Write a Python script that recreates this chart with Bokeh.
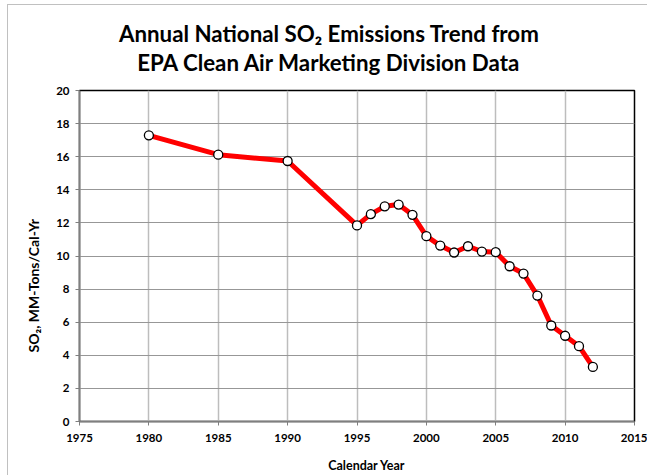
from bokeh.plotting import figure
from bokeh.layouts import column
from bokeh.models import Range1d, FixedTicker, Label, Title
from bokeh.embed import file_html
from bokeh.resources import INLINE

# Data
years = [1980, 1985, 1990, 1995, 1996, 1997, 1998, 1999, 2000, 2001, 2002,
         2003, 2004, 2005, 2006, 2007, 2008, 2009, 2010, 2011, 2012]
so2 = [17.29, 16.12, 15.74, 11.85, 12.53, 13.00, 13.11, 12.49, 11.20, 10.63, 10.21,
       10.59, 10.27, 10.23, 9.38, 8.94, 7.61, 5.80, 5.18, 4.55, 3.30]
x_ticks = [1975, 1980, 1985, 1990, 1995, 2000, 2005, 2010, 2015]
y_ticks = [0, 2, 4, 6, 8, 10, 12, 14, 16, 18, 20]
title_lines = ["Annual National SO\u2082 Emissions Trend from",
               "EPA Clean Air Marketing Division Data"]
x_label = "Calendar Year"
y_label = "SO\u2082, MM-Tons/Cal-Yr"

FONT = "Lato"
W = 639
X0, X1 = 1975, 2015


def strip(height):
    """A blank figure whose frame the column aligns with the chart frame."""
    f = figure(width=W, height=height, output_backend="svg", toolbar_location=None,
               x_range=Range1d(X0, X1), y_range=Range1d(0, height),
               min_border_left=71, min_border_right=13, min_border_top=0, min_border_bottom=0)
    f.axis.visible = False
    f.grid.visible = False
    f.outline_line_color = None
    f.background_fill_color = "white"
    f.border_fill_color = "white"
    return f


# ---- title strip ----
tf = strip(80)
for line, yy in zip(title_lines, [52, 23]):
    tf.add_layout(Label(x=1993.0, y=yy, text=line, text_align="center",
                        text_baseline="middle", text_font=FONT, text_font_size="22.3px",
                        text_font_style="bold", text_color="#000000"))

# ---- main chart ----
p = figure(width=W, height=368, output_backend="svg", toolbar_location=None,
           x_range=Range1d(X0, X1), y_range=Range1d(0, 20),
           min_border_left=71, min_border_right=13, min_border_top=5, min_border_bottom=32)

p.outline_line_color = "#000000"
p.outline_line_width = 1.5
p.background_fill_color = "white"
p.border_fill_color = "white"

for ax in (p.xaxis[0], p.yaxis[0]):
    ax.axis_line_color = "#7f7f7f"
    ax.axis_line_width = 1.5
    ax.major_tick_line_color = "#7f7f7f"
    ax.major_tick_out = 4
    ax.major_tick_in = 0
    ax.minor_tick_line_color = None
    ax.major_label_text_font = FONT
    ax.major_label_text_font_style = "bold"
    ax.major_label_text_font_size = "11.5px"
    ax.major_label_text_color = "#000000"

p.xaxis.ticker = FixedTicker(ticks=x_ticks)
p.yaxis.ticker = FixedTicker(ticks=y_ticks)
p.xaxis.major_label_standoff = 8
p.yaxis.major_label_standoff = 6

p.xgrid.grid_line_color = "#bdbdbd"
p.xgrid.grid_line_width = 1.5
p.ygrid.grid_line_color = "#979797"
p.ygrid.grid_line_width = 1.2

p.add_layout(Title(text=y_label, align="left", offset=69, standoff=24,
                   text_font=FONT, text_font_size="14px", text_font_style="bold",
                   text_color="#000000"), "left")

p.line(years, so2, line_color="#ff0000", line_width=5)
p.scatter(years, so2, size=9, fill_color="white", line_color="#000000", line_width=1.3)

# ---- x-axis title strip ----
bf = strip(22)
bf.add_layout(Label(x=1995.7, y=10, text=x_label, text_align="center",
                    text_baseline="middle", text_font=FONT, text_font_size="12.5px",
                    text_font_style="bold", text_color="#000000"))

layout = column(tf, p, bf, margin=(4, 0, 0, 7),
                styles={"border-top": "1px solid #c0c0c0", "border-left": "1px solid #c0c0c0"})

open("out.html", "w").write(file_html(layout, INLINE))
